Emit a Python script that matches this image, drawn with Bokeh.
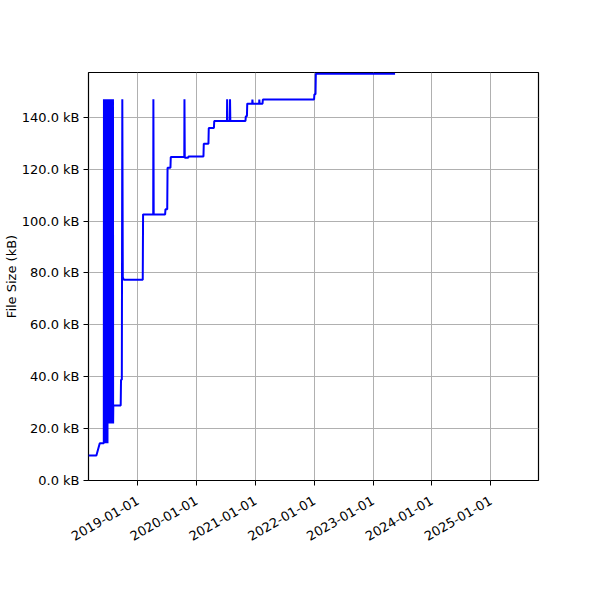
import math
import pandas as pd
from bokeh.plotting import figure
from bokeh.models import Range1d, FixedTicker, DatetimeTickFormatter, PrintfTickFormatter, ColumnDataSource
from bokeh.embed import file_html
from bokeh.resources import INLINE

dates = [
    "2018-02-28", "2018-04-18", "2018-05-09", "2018-06-03",
    "2018-06-04", "2018-06-06", "2018-06-08", "2018-06-10", "2018-06-12", "2018-06-14",
    "2018-06-16", "2018-06-18", "2018-06-20", "2018-06-22", "2018-06-24", "2018-06-26",
    "2018-06-28", "2018-06-30", "2018-07-02", "2018-07-04", "2018-07-06", "2018-07-08",
    "2018-07-10", "2018-07-12", "2018-07-14", "2018-07-16", "2018-07-18", "2018-07-20",
    "2018-07-22", "2018-07-24", "2018-07-26", "2018-07-28", "2018-07-30", "2018-07-31",
    "2018-08-01", "2018-09-16", "2018-09-18", "2018-09-23", "2018-09-26", "2018-09-29",
    "2018-10-05", "2019-01-31", "2019-02-02", "2019-04-06", "2019-04-07", "2019-04-09",
    "2019-06-19", "2019-06-21", "2019-07-02", "2019-07-04", "2019-07-22", "2019-07-24",
    "2019-10-16", "2019-10-17", "2019-10-19", "2019-11-09", "2019-11-11", "2020-02-12",
    "2020-02-14", "2020-03-14", "2020-03-16", "2020-04-17", "2020-04-19", "2020-07-07",
    "2020-07-08", "2020-07-10", "2020-07-25", "2020-07-26", "2020-07-28", "2020-10-30",
    "2020-11-01", "2020-11-08", "2020-11-10", "2020-12-11", "2020-12-12", "2020-12-14",
    "2021-01-23", "2021-01-24", "2021-01-26", "2021-02-13", "2021-02-15", "2021-12-30",
    "2022-01-01", "2022-01-08", "2022-01-10", "2023-05-17",
]
size_kb = [
    9.6, 9.6, 14.4, 14.4,
    147.0, 14.4, 147.0, 14.4, 147.0, 14.4,
    147.0, 14.4, 147.0, 14.4, 147.0, 14.4,
    147.0, 22.0, 147.0, 22.0, 147.0, 22.0,
    147.0, 22.0, 147.0, 22.0, 147.0, 22.0,
    147.0, 22.0, 147.0, 22.0, 147.0, 22.0,
    28.9, 28.9, 38.8, 38.8, 147.0, 78.4,
    77.4, 77.4, 102.6, 102.6, 147.0, 102.6,
    102.6, 104.6, 104.6, 120.6, 120.6, 124.7,
    124.7, 147.0, 124.4, 124.4, 124.9, 124.9,
    129.8, 129.8, 135.9, 135.9, 138.6, 138.6,
    147.0, 138.6, 138.6, 147.0, 138.6, 138.6,
    140.4, 140.4, 145.3, 145.3, 146.9, 145.3,
    145.3, 146.9, 145.3, 145.3, 146.9, 146.9,
    148.9, 148.9, 156.8, 156.8,
]
y_ticks = [0, 20, 40, 60, 80, 100, 120, 140]
x_tick_years = [2019, 2020, 2021, 2022, 2023, 2024, 2025]
x_start, x_end = "2018-02-28", "2025-10-24"
y_max = 157.3

src = ColumnDataSource(data=dict(date=pd.to_datetime(dates), size=size_kb))

p = figure(frame_width=450, frame_height=408, x_axis_type="datetime",
           output_backend="svg", toolbar_location=None,
           x_range=Range1d(pd.Timestamp(x_start), pd.Timestamp(x_end)),
           y_range=Range1d(0, y_max),
           min_border_left=83, min_border_right=20, min_border_top=72, min_border_bottom=100)

p.line("date", "size", source=src, line_color="#0000ff", line_width=2)

font = "DejaVu Sans"
p.xaxis.ticker = FixedTicker(ticks=[pd.Timestamp(f"{y}-01-01").value / 1e6 for y in x_tick_years])
fmt = "%Y-%m-%d"
p.xaxis.formatter = DatetimeTickFormatter(years=fmt, months=fmt, days=fmt, hours=fmt,
                                          minutes=fmt, seconds=fmt, milliseconds=fmt,
                                          microseconds=fmt, hourmin=fmt, minsec=fmt)
p.xaxis.major_label_orientation = math.pi / 6
p.yaxis.ticker = FixedTicker(ticks=y_ticks)
p.yaxis.formatter = PrintfTickFormatter(format="%.1f kB")
p.yaxis.axis_label = "File Size (kB)"

for ax in (p.xaxis, p.yaxis):
    ax.major_label_text_font = font
    ax.major_label_text_font_size = "13px"
    ax.major_label_text_color = "black"
    ax.axis_label_text_font = font
    ax.axis_label_text_font_size = "13px"
    ax.axis_label_text_font_style = "normal"
    ax.axis_label_text_color = "black"
    ax.axis_line_color = None
    ax.major_tick_line_color = "black"
    ax.major_tick_out = 5
    ax.major_tick_in = 0
    ax.minor_tick_line_color = None

p.xaxis.major_label_standoff = 14
p.yaxis.major_label_standoff = 4
p.yaxis.axis_label_standoff = 0

p.outline_line_color = "black"
p.outline_line_width = 1.2
p.xgrid.grid_line_color = "#b0b0b0"
p.ygrid.grid_line_color = "#b0b0b0"
p.xgrid.grid_line_width = 1
p.ygrid.grid_line_width = 1
p.background_fill_color = "white"
p.border_fill_color = "white"

open("out.html", "w").write(file_html(p, INLINE))
